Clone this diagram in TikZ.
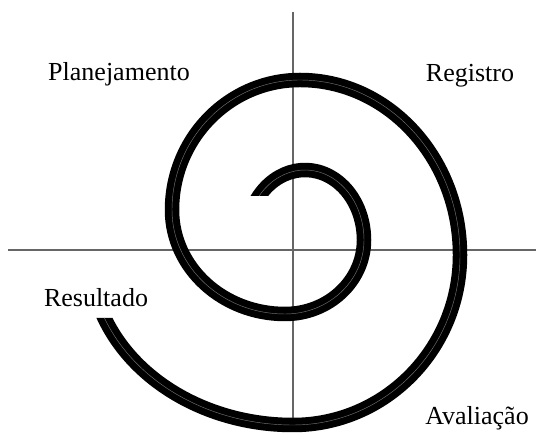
\documentclass[tikz,border=0pt]{standalone}
\usepackage{fontspec}
\setmainfont{Liberation Serif}
\usetikzlibrary{positioning}

\begin{document}
\begin{tikzpicture}[x=0.02cm,y=0.02cm,
every node/.style={font=\fontsize{14.8}{18}\selectfont,inner sep=0pt},
axis/.style={draw=black!60,line width=0.9pt},
spiral/.style={draw=black,line width=4pt,double=black!55,double distance=0.25pt}]
\useasboundingbox (0,0) rectangle (536,432);

% axes
\coordinate (top) at (293,420); \coordinate (bottom) at (293,0);
\coordinate (left) at (8,182); \coordinate (right) at (536,182);
\draw[axis] (top)--(bottom); \draw[axis] (left)--(right);

% spiral, from the inside out (ends cut flat)
\begin{scope}[even odd rule]
\clip (0,0) rectangle (536,432) (240,212) rectangle (282,236)
  (80,114) rectangle (125,145);
\draw[spiral] (305,192) ++(150:59 and 70)
  arc[start angle=150,end angle=0,x radius=59,y radius=70]
  arc[start angle=0,end angle=-90,x radius=79,y radius=74]
  arc[start angle=-90,end angle=-180,x radius=113,y radius=104]
  arc[start angle=180,end angle=90,x radius=128,y radius=130]
  arc[start angle=90,end angle=0,x radius=160,y radius=175]
  arc[start angle=0,end angle=-90,x radius=167,y radius=170]
  arc[start angle=-90,end angle=-162,x radius=203,y radius=170];
\end{scope}

% phases
\node[anchor=base] (plan) at (119,351) {Planejamento};
\node[anchor=base] (reg) at (470,350) {Registro};
\node[anchor=base] (res) at (96,125) {Resultado};
\node[anchor=base] (aval) at (477,8) {Avaliação};
\end{tikzpicture}
\end{document}
